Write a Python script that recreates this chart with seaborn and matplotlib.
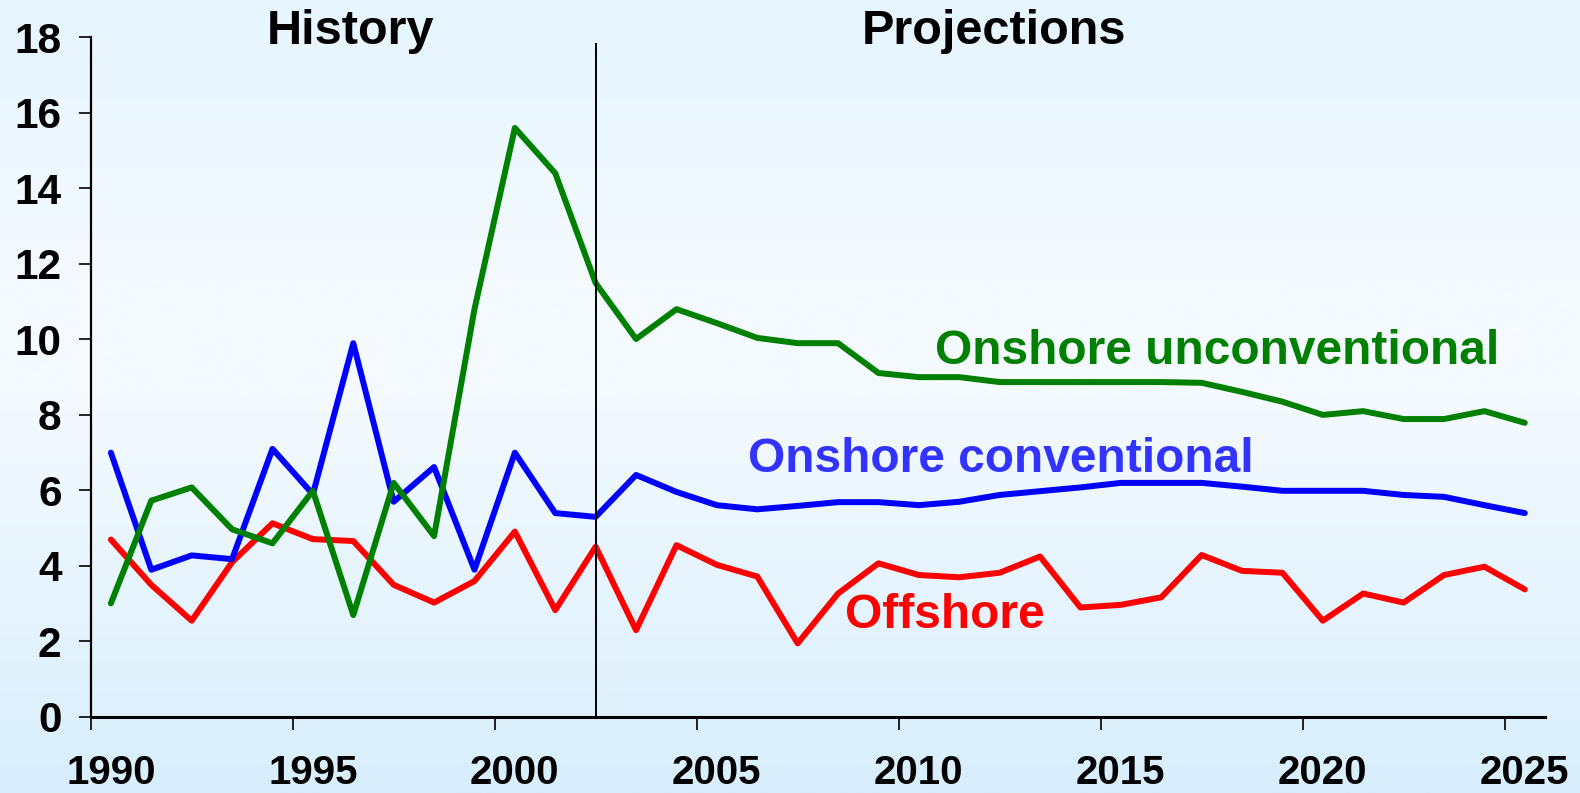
import numpy as np
import pandas as pd
import matplotlib
matplotlib.use("Agg")
import matplotlib.pyplot as plt
import seaborn as sns

years = list(range(1990, 2026))
offshore = [4.7, 3.5, 2.55, 4.1, 5.13, 4.71, 4.66, 3.5, 3.03, 3.6, 4.91, 2.83, 4.51,
            2.3, 4.55, 4.03, 3.72, 1.95, 3.27, 4.07, 3.76, 3.7, 3.82, 4.25,
            2.9, 2.97, 3.17, 4.29, 3.87, 3.82, 2.55, 3.27, 3.03, 3.76, 3.98, 3.38]
onshore_conv = [7.0, 3.9, 4.28, 4.18, 7.1, 5.9, 9.9, 5.7, 6.62, 3.9, 7.0, 5.4, 5.3,
                6.41, 5.96, 5.61, 5.5, 5.59, 5.69, 5.69, 5.61, 5.7, 5.88, 5.98,
                6.08, 6.2, 6.2, 6.2, 6.1, 5.99, 5.99, 5.99, 5.88, 5.83, 5.61, 5.4]
onshore_unconv = [3.01, 5.73, 6.08, 4.97, 4.6, 5.99, 2.7, 6.2, 4.79, 10.8, 15.6, 14.4, 11.49,
                  10.01, 10.8, 10.43, 10.04, 9.9, 9.9, 9.11, 9.0, 9.0, 8.87, 8.87,
                  8.87, 8.87, 8.87, 8.85, 8.61, 8.35, 8.0, 8.1, 7.89, 7.89, 8.1, 7.79]

series_names = ["Offshore", "Onshore conventional", "Onshore unconventional"]
line_colors = {"Offshore": "#FF0000", "Onshore conventional": "#0000FF",
               "Onshore unconventional": "#008000"}
tick_years = [1990, 1995, 2000, 2005, 2010, 2015, 2020, 2025]
y_ticks = [0, 2, 4, 6, 8, 10, 12, 14, 16, 18]
history_end = 2002

df = pd.DataFrame({
    "year": years * 3,
    "value": offshore + onshore_conv + onshore_unconv,
    "series": sum([[s] * len(years) for s in series_names], []),
})
# categories are centred between year boundaries
df["pos"] = df["year"] + 0.5

sns.set_style("white")
plt.rcParams["font.family"] = ["Liberation Sans", "DejaVu Sans"]
plt.rcParams["font.weight"] = "bold"
plt.rcParams["text.color"] = "black"

W, H = 1580, 793
fig = plt.figure(figsize=(W / 100, H / 100), dpi=100)

# background gradient
bg = fig.add_axes([0, 0, 1, 1], zorder=-10)
top = np.array([230, 245, 255]) / 255
mid = np.array([244, 250, 255]) / 255
bot = np.array([216, 238, 252]) / 255
t = np.linspace(0, 1, 400)[:, None]
grad = np.where(t < 0.35, top + (mid - top) * (t / 0.35),
                np.where(t < 0.5, mid, mid + (bot - mid) * ((t - 0.5) / 0.5)))
bg.imshow(grad[:, None, :], aspect="auto", extent=[0, 1, 0, 1])
bg.set_axis_off()

left, right, bottom, topp = 90.7, 1545, 717, 37.3
ax = fig.add_axes([left / W, 1 - bottom / H, (right - left) / W, (bottom - topp) / H])
ax.set_facecolor("none")

sns.lineplot(data=df, x="pos", y="value", hue="series", hue_order=series_names,
             palette=line_colors, linewidth=4.3, legend=False, ax=ax,
             solid_capstyle="round")

ax.set_xlim(1990, 2026)
ax.set_ylim(0, 18)
ax.set_xlabel("")
ax.set_ylabel("")

for s in ["top", "right"]:
    ax.spines[s].set_visible(False)
for s in ["left", "bottom"]:
    ax.spines[s].set_color("black")
    ax.spines[s].set_linewidth(1.6)
ax.spines["bottom"].set_linewidth(2.2)

ax.set_yticks(y_ticks)
ax.set_yticklabels([str(v) for v in y_ticks], fontsize=30.5, fontweight="bold")
ax.tick_params(axis="y", which="major", direction="out", length=9, width=1.2,
               pad=12, left=True, labelcolor="black", color="black")

ax.set_xticks(tick_years)
ax.set_xticklabels([])
ax.set_xticks([y + 0.5 for y in tick_years], minor=True)
ax.set_xticklabels([str(y) for y in tick_years], minor=True, fontsize=29,
                   fontweight="bold")
ax.tick_params(axis="x", which="major", direction="out", length=9.5, width=1.2,
               bottom=True, color="black")
ax.tick_params(axis="x", which="minor", length=0, pad=27, bottom=True,
               labelcolor="black")

# history / projections divider
ax.vlines(history_end + 0.5, 0, 17.85, colors="black", linewidth=1.4)

ax.text(1996.42, 17.82, "History", fontsize=35, fontweight="bold", ha="center",
        va="baseline", color="black")
ax.text(2012.37, 17.82, "Projections", fontsize=35, fontweight="bold", ha="center",
        va="baseline", color="black")
ax.text(2010.9, 9.35, "Onshore unconventional", fontsize=34.5, fontweight="bold",
        ha="left", va="baseline", color="#008000")
ax.text(2006.27, 6.5, "Onshore conventional", fontsize=34.5, fontweight="bold",
        ha="left", va="baseline", color="#3333FF")
ax.text(2008.67, 2.36, "Offshore", fontsize=34.5, fontweight="bold",
        ha="left", va="baseline", color="#FF0000")

fig.savefig("out.png", dpi=100)
